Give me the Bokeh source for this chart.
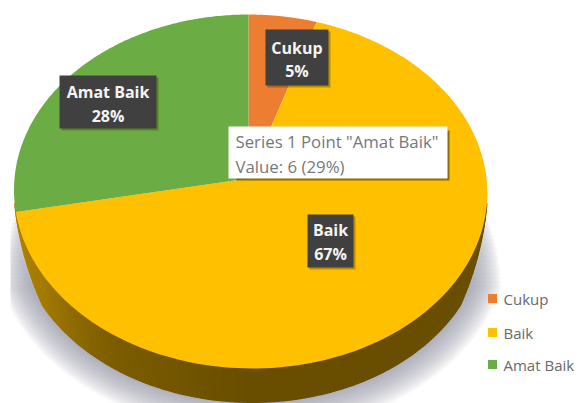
import numpy as np
from bokeh.core.properties import value
from bokeh.embed import file_html
from bokeh.models import Range1d
from bokeh.plotting import figure
from bokeh.resources import INLINE

categories = ["Cukup", "Baik", "Amat Baik"]
shares = [5, 67, 28]
share_labels = ["5%", "67%", "28%"]
colors = ["#ED7D31", "#FFC000", "#6CAC45"]
tooltip_lines = ['Series 1 Point "Amat Baik"', "Value: 6 (29%)"]

# Tilted-disc geometry, in page pixels
CX, CY = 248.0, 178.0
RX, RY, PERSPECTIVE = 236.0, 176.0, 0.0734
WALL_SCALE, WALL_DROP = 0.985, 37.0

# Wall shade by position around the rim (degrees clockwise from north)
SHADE_ANGLES = [90, 180, 215, 240, 280]
SHADE_RED = [106, 105, 125, 165, 186]
SHADE_GREEN = [80, 78, 94, 124, 140]


def project(theta, scale=1.0, drop=0.0):
    """Map clockwise-from-north angles on the disc onto the page."""
    u, v = np.sin(theta) * scale, np.cos(theta) * scale
    w = 1 + PERSPECTIVE * v
    return CX + 2 + RX * u / w - 2 * v, CY - RY * v / w + drop


def wall_height(deg):
    """Fraction of the full wall visible at a rim angle; fades out at the sides."""
    return np.clip(np.minimum((deg - 98) / 22, (262 - deg) / 22), 0, 1)


p = figure(width=579, height=403, output_backend="svg", toolbar_location=None,
           x_range=Range1d(0, 579), y_range=Range1d(403, 0),
           min_border=0, outline_line_color=None, background_fill_color="#ffffff",
           border_fill_color="#ffffff")
p.axis.visible = False
p.grid.visible = False

# Soft drop shadow under the disc: outer layers start lower so it fades in downwards
ring = np.linspace(0, 2 * np.pi, 241)
for grow in np.linspace(1.09, 0.99, 20):
    sx, sy = project(ring, grow, WALL_DROP + (grow - 1) * 100)
    p.patch(np.maximum(sx, 10), np.maximum(sy, 205 + (grow - 0.99) * 800),
            fill_color="#8f95a3", fill_alpha=0.055, line_color=None)

# Side wall, shaded from the rim towards the front
wall = np.linspace(98, 262, 165)
for a, b in zip(wall[:-1], wall[1:]):
    mid = (a + b) / 2
    shade = "#%02x%02x00" % (int(np.interp(mid, SHADE_ANGLES, SHADE_RED)),
                             int(np.interp(mid, SHADE_ANGLES, SHADE_GREEN)))
    xa, ya = project(np.radians([a, b]))
    corners = []
    for deg in (b, a):
        f = wall_height(deg)
        corners.append(project(np.radians(deg), 1 - (1 - WALL_SCALE) * f, WALL_DROP * f))
    p.patch([*xa, corners[0][0], corners[1][0]], [*ya, corners[0][1], corners[1][1]],
            fill_color=shade, line_color=shade, line_width=1.2)

# Top face, one slice per category
start = 0.0
total = sum(shares)
for share, color in zip(shares, colors):
    sweep = np.linspace(start, start + 2 * np.pi * share / total, 160)
    sx, sy = project(sweep)
    p.patch([CX, *sx], [CY, *sy], fill_color=color, line_color=None)
    start = sweep[-1]

# Slice labels on dark plates
plates = {"Cukup": (265, 328, 29, 85, 296.5, 47, 70),
          "Baik": (307, 353, 214, 267, 330, 229, 253),
          "Amat Baik": (59, 156, 75, 128, 107.5, 91, 115)}
for name, pct in zip(categories, share_labels):
    x0, x1, y0, y1, tx, ty1, ty2 = plates[name]
    p.quad(left=x0 + 2, right=x1 + 2, top=y0 + 2, bottom=y1 + 2,
           fill_color="#3a3000", fill_alpha=0.35, line_color=None)
    p.quad(left=x0, right=x1, top=y0, bottom=y1, fill_color="#404040", line_color=None)
    p.text([tx, tx], [ty1, ty2], text=[name, pct], text_color="#f4f4f4",
           text_font=value("Open Sans"), text_font_style="bold", text_font_size="16px",
           text_align="center", text_baseline="middle")

# Hover tooltip box
p.quad(left=236, right=449, top=130, bottom=180, fill_color="#5a4a10", fill_alpha=0.7, line_color=None)
p.quad(left=228, right=447, top=126, bottom=178, fill_color="#ffffff", line_color=None)
p.text([235, 235], [141, 166], text=tooltip_lines, text_color="#74787d",
       text_font=value("Open Sans"), text_font_size="16.8px",
       text_align="left", text_baseline="middle")

# Legend
legend_y = [298, 332, 364]
p.scatter([492] * 3, legend_y, marker="square", size=9, fill_color=colors, line_color=None)
p.text([503] * 3, legend_y, text=categories, text_color="#6a6a6a",
       text_font=value("Open Sans"), text_font_size="15px",
       text_align="left", text_baseline="middle")

open("out.html", "w").write(file_html(p, INLINE))
